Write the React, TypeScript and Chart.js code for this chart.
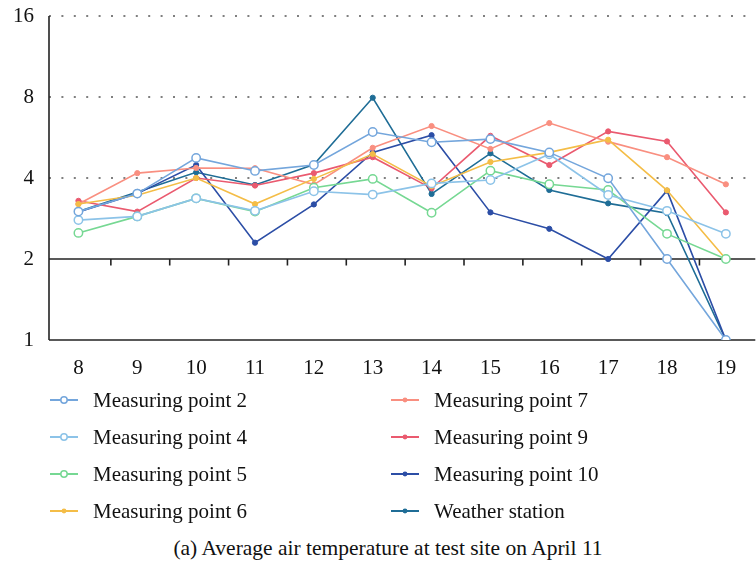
import React, { useEffect, useRef } from 'react';
import { Chart, registerables } from 'chart.js';

Chart.register(...registerables);

const categories = ['8', '9', '10', '11', '12', '13', '14', '15', '16', '17', '18', '19'];
const yTicks = [1, 2, 4, 8, 16];
const dottedLevels = [4, 8, 16];
const solidLevels = [1, 2];

const mp2 = [3.0, 3.5, 4.75, 4.25, 4.47, 5.93, 5.43, 5.58, 4.98, 3.99, 2.0, 1.0];
const mp4 = [2.79, 2.88, 3.36, 3.02, 3.57, 3.47, 3.82, 3.93, 4.9, 3.46, 3.02, 2.48];
const mp5 = [2.5, 2.88, 3.36, 3.0, 3.68, 3.97, 2.97, 4.26, 3.79, 3.61, 2.48, 2.0];
const mp6 = [3.2, 3.45, 4.0, 3.2, 3.97, 4.91, 3.73, 4.59, 4.98, 5.55, 3.6, 2.0];
const mp7 = [3.2, 4.17, 4.36, 4.35, 3.78, 5.18, 6.24, 5.13, 6.4, 5.46, 4.78, 3.79];
const mp9 = [3.29, 3.0, 4.0, 3.75, 4.17, 4.78, 3.66, 5.74, 4.47, 5.96, 5.47, 2.98];
const mp10 = [2.99, 3.5, 4.47, 2.3, 3.19, 4.98, 5.77, 2.98, 2.59, 2.0, 3.59, 1.0];
const ws = [3.0, 3.55, 4.2, 3.77, 4.49, 7.95, 3.49, 4.94, 3.61, 3.22, 2.96, 1.0];

const seriesLabels = [
  'Measuring point 2',
  'Measuring point 4',
  'Measuring point 5',
  'Measuring point 6',
  'Measuring point 7',
  'Measuring point 9',
  'Measuring point 10',
  'Weather station',
];
const seriesData = [mp2, mp4, mp5, mp6, mp7, mp9, mp10, ws];
const seriesColors = ['#74a6dc', '#8cc3e8', '#76d893', '#f4bd47', '#f98f80', '#ea5a6f', '#2c4ea6', '#1f6d96'];
const seriesOpen = [true, true, true, false, false, false, false, false];

const caption = '(a) Average air temperature at test site on April 11';
const FONT = "'Liberation Serif', 'DejaVu Serif', serif";

const gridPlugin = {
  id: 'customGrid',
  beforeDatasetsDraw(chart: any) {
    const { ctx, chartArea, scales } = chart;
    const x = scales.x;
    const y = scales.y;
    ctx.save();
    ctx.strokeStyle = '#555';
    ctx.lineWidth = 1.6;
    ctx.setLineDash([2, 10.4]);
    for (const v of dottedLevels) {
      const py = Math.round(y.getPixelForValue(v));
      ctx.beginPath();
      ctx.moveTo(chartArea.left, py);
      ctx.lineTo(chartArea.right, py);
      ctx.stroke();
    }
    ctx.setLineDash([]);
    ctx.strokeStyle = '#222';
    ctx.lineWidth = 1.6;
    for (const v of solidLevels) {
      const py = Math.round(y.getPixelForValue(v));
      ctx.beginPath();
      ctx.moveTo(chartArea.left, py);
      ctx.lineTo(chartArea.right, py);
      ctx.stroke();
    }
    // tick marks hanging from the level-2 line, between categories
    const p2 = Math.round(y.getPixelForValue(2));
    for (let i = 0; i < categories.length - 1; i++) {
      const px = (x.getPixelForValue(i) + x.getPixelForValue(i + 1)) / 2 + 3;
      ctx.beginPath();
      ctx.moveTo(px, p2);
      ctx.lineTo(px, p2 + 6.5);
      ctx.stroke();
    }
    // left axis
    ctx.beginPath();
    ctx.moveTo(chartArea.left, chartArea.top);
    ctx.lineTo(chartArea.left, chartArea.bottom);
    ctx.stroke();
    ctx.restore();
  },
};

function LegendItem({ idx, left, top }: { idx: number; left: number; top: number }) {
  const color = seriesColors[idx];
  const open = seriesOpen[idx];
  return (
    <div
      style={{
        position: 'absolute',
        left,
        top: top - 13,
        height: 26,
        display: 'flex',
        alignItems: 'center',
        whiteSpace: 'nowrap',
      }}
    >
      <svg width={28} height={12} style={{ display: 'block' }}>
        <line x1={0} y1={6} x2={28} y2={6} stroke={color} strokeWidth={2} />
        {open ? (
          <circle cx={14} cy={6} r={3.2} fill="#fff" stroke={color} strokeWidth={1.5} />
        ) : (
          <circle cx={14} cy={6} r={2.4} fill={color} />
        )}
      </svg>
      <span
        style={{
          marginLeft: 15,
          fontFamily: FONT,
          fontSize: 21,
          color: '#111',
        }}
      >
        {seriesLabels[idx]}
      </span>
    </div>
  );
}

export default function App() {
  const ref = useRef<HTMLCanvasElement>(null);
  useEffect(() => {
    const chart = new Chart(ref.current as HTMLCanvasElement, {
      type: 'line',
      data: {
        labels: categories,
        datasets: seriesData.map((d, i) => ({
          label: seriesLabels[i],
          data: d,
          borderColor: seriesColors[i],
          backgroundColor: seriesOpen[i] ? '#ffffff' : seriesColors[i],
          pointBorderColor: seriesColors[i],
          pointBackgroundColor: seriesOpen[i] ? '#ffffff' : seriesColors[i],
          pointRadius: seriesOpen[i] ? 4.2 : 2.6,
          pointBorderWidth: seriesOpen[i] ? 1.5 : 1,
          borderWidth: 1.6,
          tension: 0,
          fill: false,
        })),
      },
      options: {
        responsive: false,
        animation: false,
        layout: { padding: { top: 16, left: 0, right: 0, bottom: 0 } },
        plugins: {
          legend: { display: false },
          tooltip: { enabled: false },
        },
        scales: {
          x: {
            type: 'category',
            offset: true,
            grid: { display: false, drawTicks: false },
            border: { display: false },
            ticks: {
              font: { family: FONT, size: 21 },
              color: '#111',
              padding: 16,
              maxRotation: 0,
              autoSkip: false,
            },
            afterFit(s: any) {
              s.height = 50;
              s.paddingLeft = 0;
              s.paddingRight = 0;
            },
          },
          y: {
            type: 'logarithmic',
            min: 1,
            max: 16,
            grid: { display: false, drawTicks: false },
            border: { display: false },
            afterBuildTicks(s: any) {
              s.ticks = yTicks.map((v) => ({ value: v }));
            },
            ticks: {
              font: { family: FONT, size: 21 },
              color: '#111',
              padding: 15,
              callback: (v: any) => String(v),
            },
            afterFit(s: any) {
              s.width = 49;
              s.paddingTop = 0;
              s.paddingBottom = 0;
            },
          },
        },
      },
      plugins: [gridPlugin],
    } as any);
    return () => chart.destroy();
  }, []);

  const rowsY = [400, 437, 474, 511];
  return (
    <div
      style={{
        position: 'absolute',
        left: 0,
        top: 0,
        width: 756,
        height: 565,
        overflow: 'hidden',
        background: '#fff',
      }}
    >
      <canvas ref={ref} width={761} height={390} style={{ display: 'block', position: 'absolute', left: 0, top: 0 }} />
      {[0, 1, 2, 3].map((r) => (
        <LegendItem key={'a' + r} idx={r} left={50} top={rowsY[r]} />
      ))}
      {[4, 5, 6, 7].map((idx, r) => (
        <LegendItem key={'b' + r} idx={idx} left={391} top={rowsY[r]} />
      ))}
      <div
        style={{
          position: 'absolute',
          left: 0,
          width: 776,
          top: 548 - 13,
          height: 26,
          lineHeight: '26px',
          textAlign: 'center',
          fontFamily: FONT,
          fontSize: 21.5,
          color: '#111',
          whiteSpace: 'nowrap',
        }}
      >
        {caption}
      </div>
    </div>
  );
}
